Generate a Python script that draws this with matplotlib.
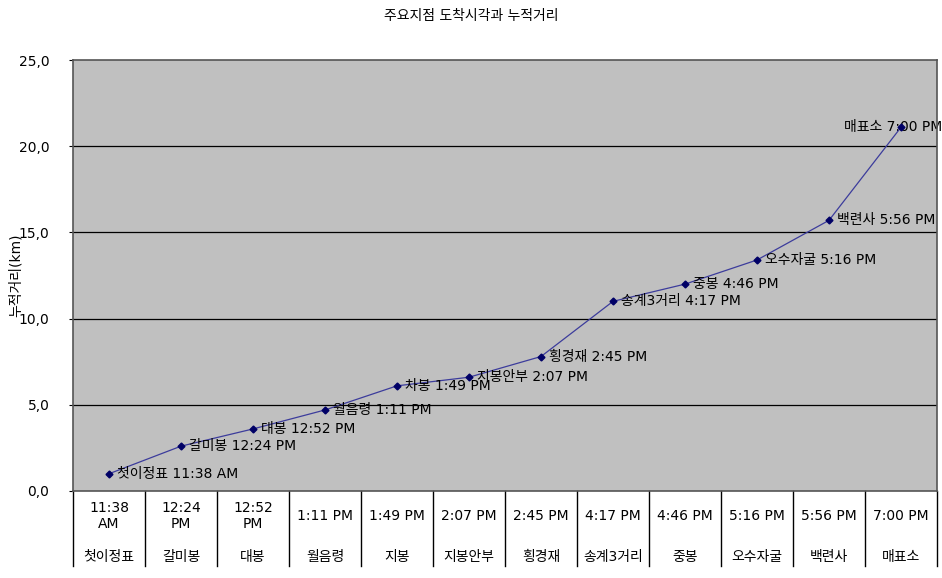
import numpy as np
import matplotlib.pyplot as plt
from matplotlib.transforms import blended_transform_factory

plt.rcParams['font.family'] = ['DejaVu Sans', 'Noto Sans CJK KR']

# 데이터
places = ['첫이정표', '갈미봉', '대봉', '월음령', '지봉', '지봉안부', '횡경재',
          '송계3거리', '중봉', '오수자굴', '백련사', '매표소']
point_names = ['첫이정표', '갈미봉', '대봉', '월음령', '차봉', '지봉안부', '횡경재',
               '송계3거리', '중봉', '오수자굴', '백련사', '매표소']
times = ['11:38 AM', '12:24 PM', '12:52 PM', '1:11 PM', '1:49 PM', '2:07 PM',
         '2:45 PM', '4:17 PM', '4:46 PM', '5:16 PM', '5:56 PM', '7:00 PM']
time_ticks = ['11:38\nAM', '12:24\nPM', '12:52\nPM', '1:11 PM', '1:49 PM', '2:07 PM',
              '2:45 PM', '4:17 PM', '4:46 PM', '5:16 PM', '5:56 PM', '7:00 PM']
distance = [1.0, 2.6, 3.6, 4.7, 6.1, 6.6, 7.8, 11.0, 12.0, 13.4, 15.7, 21.1]
y_ticks = [0, 5, 10, 15, 20, 25]

fig = plt.figure(figsize=(9.42, 5.78), dpi=100)
ax = fig.add_axes([73 / 942, 87 / 578, 864 / 942, 431 / 578])
ax.set_facecolor('#c0c0c0')

x = np.arange(len(places))
ax.plot(x, distance, color='#3c3c9c', lw=0.9, marker='D', ms=3.5,
        mfc='#000066', mec='#000066', zorder=3)
for i, (xi, yi, name, t) in enumerate(zip(x, distance, point_names, times)):
    if i == len(x) - 1:
        # 마지막 라벨은 점 왼쪽으로 (원본처럼 점과 겹침)
        ax.annotate(f'{name} {t}', (xi, yi), xytext=(30, 0), textcoords='offset points',
                    va='center', ha='right', fontsize=10, zorder=2,
                    annotation_clip=False)
    else:
        ax.annotate(f'{name} {t}', (xi, yi), xytext=(6, 0), textcoords='offset points',
                    va='center', ha='left', fontsize=10, zorder=4,
                    annotation_clip=False)

ax.set_xlim(-0.5, len(places) - 0.5)
ax.set_ylim(0, 25)
ax.set_yticks(y_ticks)
ax.set_yticklabels([f'{v:.1f}'.replace('.', ',') for v in y_ticks], fontsize=10)
ax.tick_params(axis='y', length=3, pad=14)
ax.set_xticks([])

for v in y_ticks[1:-1]:
    ax.axhline(v, color='black', lw=0.9, zorder=1)

for s in ax.spines.values():
    s.set_color('#555555')
    s.set_linestyle((0, (1, 1)))
    s.set_linewidth(1.2)

ax.set_ylabel('누적거리(km)', fontsize=10)
ax.yaxis.set_label_coords(-0.058, 0.5)
fig.suptitle('주요지점 도착시각과 누적거리', fontsize=10, y=0.985)

# 두 줄 카테고리 축
trans = blended_transform_factory(ax.transData, ax.transAxes)
for i in range(len(places) + 1):
    ax.plot([i - 0.5, i - 0.5], [0, -0.175], color='black', lw=1,
            transform=trans, clip_on=False)
for i, (t, p) in enumerate(zip(time_ticks, places)):
    ax.text(i, -0.058, t, transform=trans, ha='center', va='center',
            fontsize=10, linespacing=1.1)
    ax.text(i, -0.152, p, transform=trans, ha='center', va='center', fontsize=10)

fig.savefig('out.png', dpi=100)
